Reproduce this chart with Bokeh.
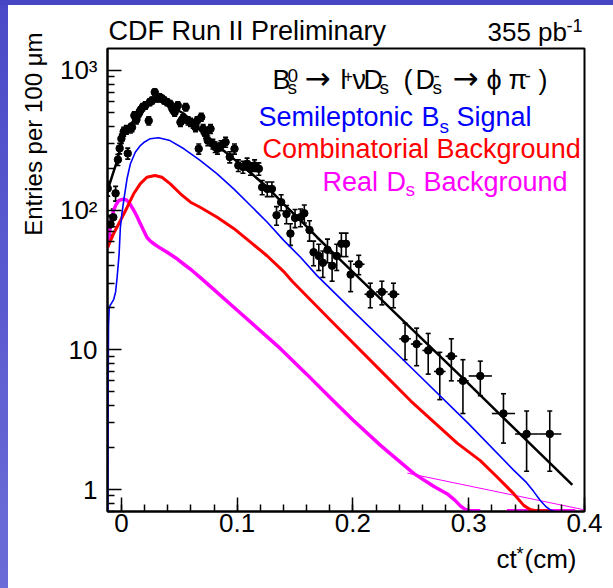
import math
from bokeh.plotting import figure
from bokeh.models import Label, FixedTicker, Whisker, ColumnDataSource, TeeHead, Div
from bokeh.layouts import column, row
from bokeh.embed import file_html
from bokeh.resources import INLINE

# ---------------- data ----------------
ct = [-0.0118, -0.0095, -0.007, -0.005, -0.003, -0.0015, 0.000, 0.002, 0.0043, 0.0055,
      0.0078, 0.0092, 0.0112, 0.013, 0.015, 0.0164, 0.0184, 0.0207, 0.0236, 0.0245,
      0.0265, 0.0288, 0.031, 0.033, 0.035, 0.037, 0.0395, 0.042, 0.044, 0.046,
      0.0487, 0.051, 0.053, 0.0556, 0.0576, 0.0597, 0.062, 0.064, 0.0654, 0.0668,
      0.069, 0.0706, 0.0726, 0.0746, 0.077, 0.079, 0.081, 0.083, 0.086, 0.090,
      0.0936, 0.0977, 0.101, 0.105, 0.1086, 0.1115, 0.115, 0.1187, 0.1216, 0.126,
      0.130, 0.134, 0.138, 0.1426, 0.146, 0.150, 0.1547, 0.158, 0.1625, 0.166,
      0.1705, 0.174, 0.178, 0.182, 0.186, 0.190, 0.194, 0.198, 0.205, 0.215,
      0.225, 0.235, 0.245, 0.255, 0.265, 0.275, 0.285, 0.295, 0.31, 0.33,
      0.35, 0.37]
entries = [143, 79, 89, 132, 230, 277, 325, 365, 377, 255,
           385, 392, 476, 444, 492, 518, 546, 562, 437, 593,
           610, 700, 630, 645, 630, 610, 593, 576, 532, 502,
           562, 426, 451, 546, 437, 426, 415, 392, 437, 275,
           463, 382, 352, 315, 382, 298, 283, 275, 290, 307,
           240, 275, 209, 204, 215, 198, 209, 198, 146, 142,
           142, 92, 114, 94, 68, 88, 89, 95, 72, 50,
           47, 42, 52, 40, 47, 57.5, 57.5, 34.6, 41, 25,
           26, 25, 12, 11, 9.9, 7.0, 9.0, 6.0, 6.5, 3.5,
           2.5, 2.5]
entries_err = [17, 13, 13, 16, 21, 24, 25, 27, 27, 23,
               28, 28, 31, 30, 31, 32, 33, 34, 30, 34,
               35, 37, 35, 36, 35, 35, 34, 34, 33, 32,
               34, 29, 30, 33, 30, 29, 29, 28, 30, 23,
               30, 28, 27, 25, 28, 24, 24, 23, 24, 25,
               22, 23, 20, 20, 21, 20, 20, 20, 17, 17,
               17, 14, 15, 14, 12, 13, 13, 14, 12, 10,
               10, 9, 10, 9, 10, 11, 11, 8.5, 6.5, 5,
               5, 5, 3.5, 3.3, 3.2, 2.6, 3.0, 2.5, 1.8, 1.35,
               1.15, 1.15]
ct_halfbin = [0.002] * 78 + [0.005] * 10 + [0.01] * 4

fit_x = [-0.012, -0.008, -0.004, 0.0, 0.004, 0.008, 0.012, 0.016, 0.02, 0.025, 0.03,
         0.035, 0.04, 0.047, 0.054, 0.06, 0.068, 0.075, 0.083, 0.09, 0.097, 0.111,
         0.126, 0.14, 0.155, 0.169, 0.2, 0.25, 0.3, 0.35, 0.3895]
fit_y = [138, 175, 222, 298, 365, 412, 452, 497, 540, 580, 610,
         600, 572, 530, 490, 440, 372, 330, 290, 260, 233, 187,
         146, 111, 84, 64, 36, 14.3, 5.7, 2.25, 1.08]

sig_x = [-0.0117, -0.0114, -0.0111, -0.0105, -0.0095, -0.0086, -0.0066, -0.005, -0.0037,
         -0.002, -0.0009, 0.0005, 0.002, 0.005, 0.0078, 0.012, 0.0164, 0.02, 0.025, 0.032,
         0.042, 0.054, 0.068, 0.0827, 0.097, 0.1115, 0.126, 0.14, 0.1547, 0.169, 0.2,
         0.25, 0.3, 0.339, 0.35, 0.356, 0.362, 0.367, 0.371, 0.375]
sig_y = [0.6, 6, 15, 20, 21, 21.5, 23, 26, 33,
         48, 75, 95, 117, 170, 215, 260, 290, 308, 325, 330,
         315, 275, 227, 182, 142, 108, 82, 61, 46, 34, 19,
         7.5, 2.95, 1.37, 1.12, 0.97, 0.83, 0.75, 0.71, 0.69]

comb_x = [-0.012, -0.0067, -0.0009, 0.005, 0.0106, 0.0164, 0.022, 0.029, 0.035, 0.042,
          0.051, 0.0597, 0.068, 0.0827, 0.097, 0.1115, 0.126, 0.14, 0.1475, 0.18,
          0.2239, 0.25, 0.29, 0.31, 0.3245, 0.339, 0.3475, 0.353, 0.358, 0.37]
comb_y = [54, 68, 84, 105, 131, 155, 172, 177, 172, 155,
          131, 114, 105, 89, 74, 59, 47, 36.5, 31, 16.5,
          7.1, 4.3, 2.15, 1.61, 1.23, 0.93, 0.77, 0.72, 0.705, 0.705]

real_x = [-0.012, -0.0095, -0.0067, -0.0045, -0.0023, 0.0, 0.002, 0.0045, 0.0063, 0.0085,
          0.0106, 0.0135, 0.0164, 0.019, 0.022, 0.025, 0.028, 0.0335, 0.0395, 0.047,
          0.054, 0.061, 0.068, 0.1, 0.1374, 0.16, 0.1826, 0.2, 0.2238, 0.2527,
          0.27, 0.2815, 0.288, 0.293, 0.297, 0.3, 0.31, float("nan"), 0.333, 0.392]
real_y = [54, 78, 100, 110, 117, 119, 120, 118, 114, 107,
          100, 90, 80, 72, 64, 60, 57.5, 53.5, 50, 45.5,
          41, 37, 33, 19.2, 10.2, 6.7, 4.35, 3.15, 2.07, 1.30,
          1.05, 0.93, 0.84, 0.76, 0.72, 0.705, 0.705, float("nan"), 0.705, 0.705]

thin_x = [0.247, 0.4]
thin_y = [1.31, 0.715]

x_ticks = [0, 0.1, 0.2, 0.3, 0.4]
x_tick_labels = ["0", "0.1", "0.2", "0.3", "0.4"]
y_ticks = [1, 10, 100, 1000]
y_tick_labels = ["1", "10", "10\u00b2", "10\u00b3"]

# ---------------- geometry (page pixels) ----------------
XMIN, XMAX = -0.012, 0.4
YMIN, YMAX = 0.696, 1437
FL, FT, FW, FH = 107, 48, 477, 463        # main frame
STRIP_L, STRIP_T = 8, 5
LEFT_W = 42                               # figure with the y title
COL_X = STRIP_L + LEFT_W                  # 50
COL_W = 613 - COL_X                       # 563
TITLE_H = 42                              # page y 5..47
MAIN_TOP = STRIP_T + TITLE_H              # 47
MAIN_H = 498                              # page y 47..545
BOT_Y = MAIN_TOP + MAIN_H                 # 545
BOT_H = 588 - BOT_Y                       # 43
LTOP, LBOT = math.log10(YMAX), math.log10(YMIN)
FONT = "Liberation Sans"
ARROW_FONT = "DejaVu Sans"
BASE_FIX = 0.38          # the renderer draws the baseline this many em lower


def px2x(px):
    return XMIN + (px - FL) * (XMAX - XMIN) / FW


def px2y(py):
    return 10 ** (LTOP - (py - FT) * (LTOP - LBOT) / FH)


def make_label(fig, text, x, y, size, color="black", align="left", angle=0.0, font=FONT):
    fig.add_layout(Label(x=x, y=y, text=text, text_font=font,
                         text_font_size=f"{size}px", text_color=color,
                         text_align=align, text_baseline="alphabetic",
                         angle=angle, angle_units="rad"))


def aux_fig(x0, y0, w, h):
    f = figure(width=w, height=h, x_range=(x0, x0 + w), y_range=(y0 + h, y0),
               output_backend="svg", toolbar_location=None,
               x_axis_location=None, y_axis_location=None, min_border=0)
    f.frame_align = False
    f.margin = (0, 0, 0, 0)
    f.outline_line_color = None
    f.background_fill_color = "white"
    f.border_fill_color = "white"
    f.grid.visible = False
    return f


def aux_text(fig, text, px, py, size, color="black"):
    make_label(fig, text, px, py - BASE_FIX * size, size, color)


# ---------------- main plot ----------------
p = figure(frame_width=FW, frame_height=FH,
           x_range=(XMIN, XMAX), y_range=(YMIN, YMAX), y_axis_type="log",
           output_backend="svg", toolbar_location=None,
           min_border_left=FL - COL_X, min_border_right=613 - (FL + FW),
           min_border_top=FT - MAIN_TOP, min_border_bottom=BOT_Y - (FT + FH))
p.frame_align = False
p.margin = (0, 0, 0, 0)
p.background_fill_color = "white"
p.border_fill_color = "white"
p.outline_line_color = "black"
p.outline_line_width = 2
p.grid.visible = False

for ax in (p.xaxis[0], p.yaxis[0]):
    ax.axis_line_width = 2
    ax.axis_line_color = "black"
    ax.major_tick_out = 0
    ax.major_tick_in = 14
    ax.minor_tick_out = 0
    ax.minor_tick_in = 7
    ax.major_tick_line_color = "black"
    ax.minor_tick_line_color = "black"
    ax.major_tick_line_width = 1.5
    ax.minor_tick_line_width = 1.5
    ax.major_label_text_font = FONT
    ax.major_label_text_font_size = "26px"
    ax.major_label_text_color = "black"

p.xaxis.ticker = FixedTicker(ticks=x_ticks,
                             minor_ticks=[round(0.02 * i, 2) for i in range(21)])
p.xaxis.major_label_overrides = dict(zip(x_ticks, x_tick_labels))
p.xaxis.major_label_standoff = 2

minor_y = [0.7, 0.8, 0.9] + [m * d for d in (1, 10, 100) for m in range(2, 10)]
p.yaxis.ticker = FixedTicker(ticks=y_ticks, minor_ticks=minor_y)
p.yaxis.major_label_overrides = dict(zip(y_ticks, y_tick_labels))
p.yaxis.major_label_standoff = 10

# curves
p.line(thin_x, thin_y, line_color="#ff00ff", line_width=1)
p.line(real_x, real_y, line_color="#ff00ff", line_width=3.5)
p.line(comb_x, comb_y, line_color="#ff0000", line_width=3)
p.line(sig_x, sig_y, line_color="#0000ff", line_width=1.6)
p.line(fit_x, fit_y, line_color="black", line_width=2.5)

# data points
src = ColumnDataSource(dict(
    x=ct, y=entries,
    lo=[v - e for v, e in zip(entries, entries_err)],
    hi=[v + e for v, e in zip(entries, entries_err)],
    xlo=[c - h for c, h in zip(ct, ct_halfbin)],
    xhi=[c + h for c, h in zip(ct, ct_halfbin)],
))
p.add_layout(Whisker(source=src, base="x", lower="lo", upper="hi", dimension="height",
                     line_color="black", line_width=1.6,
                     upper_head=TeeHead(size=5, line_color="black", line_width=1.6),
                     lower_head=TeeHead(size=5, line_color="black", line_width=1.6)))
p.add_layout(Whisker(source=src, base="y", lower="xlo", upper="xhi", dimension="width",
                     line_color="black", line_width=1.6,
                     upper_head=None, lower_head=None))
p.scatter("x", "y", source=src, size=7.5, color="black")


def put(text, px, py, size, color="black", font=FONT):
    make_label(p, text, px2x(px), px2y(py - BASE_FIX * size), size, color, font=font)


BIG, SMALL = 27, 19
SUB, SUP = 5, -8

# decay formula
b1 = 90
put("B", 272, b1, BIG)
put("s", 287, b1 + SUB - 1, SMALL)
put("0", 287, b1 + SUP, SMALL)
put("\u2192", 304, b1 - 1, 31, font=ARROW_FONT)
put("l", 340, b1, BIG)
put("+", 343, b1 + SUP, 16)
put("\u03bd", 352, b1, BIG)
put("D", 363, b1, BIG)
put("s", 379, b1 + SUB - 1, SMALL)
put("-", 380, b1 + SUP, SMALL)
put("(", 403, b1, BIG)
put("D", 415, b1, BIG)
put("s", 432, b1 + SUB - 1, SMALL)
put("-", 433, b1 + SUP, SMALL)
put("\u2192", 452, b1 - 1, 31, font=ARROW_FONT)
put("\u03d5", 486, b1, BIG)
put("\u03c0", 508, b1, BIG)
put("-", 524, b1 + SUP, SMALL)
put(")", 538, b1, BIG)

# legend lines
put("Semileptonic", 258, 127, BIG, "#0000ff")
put("B", 421, 127, BIG, "#0000ff")
put("s", 439, 127 + SUB + 1, SMALL, "#0000ff")
put("Signal", 456, 127, BIG, "#0000ff")
put("Combinatorial Background", 262, 159, BIG, "#ff0000")
put("Real", 322, 191.5, BIG, "#ff00ff")
put("D", 386, 191.5, BIG, "#ff00ff")
put("s", 405, 191.5 + SUB, SMALL, "#ff00ff")
put("Background", 423, 191.5, BIG, "#ff00ff")

# ---------------- surrounding text figures ----------------
left_fig = aux_fig(STRIP_L, STRIP_T, LEFT_W, 588 - STRIP_T)
make_label(left_fig, "Entries per 100 \u03bcm", 42 - BASE_FIX * 24, 32, 24,
           align="right", angle=math.pi / 2)

title_fig = aux_fig(COL_X, STRIP_T, COL_W, TITLE_H)
aux_text(title_fig, "CDF Run II Preliminary", 108, 41, BIG)
aux_text(title_fig, "355 pb", 487, 41, 26)
aux_text(title_fig, "-1", 566, 32, 18)

bottom_fig = aux_fig(COL_X, BOT_Y, COL_W, BOT_H)
aux_text(bottom_fig, "ct", 496, 568, 26)
aux_text(bottom_fig, "*", 516, 560, 18)
aux_text(bottom_fig, " (cm)", 524, 568, 26)

# ---------------- page with the slide strips ----------------
top_strip = Div(text="", width=613, height=STRIP_T, margin=(0, 0, 0, 0),
                styles={"background-color": "#4646c4"})
left_strip = Div(text="", width=STRIP_L, height=588 - STRIP_T, margin=(0, 0, 0, 0),
                 styles={"background": "linear-gradient(#4a4ac8, #6c6cd8)"})
right_col = column(title_fig, p, bottom_fig, spacing=0, margin=(0, 0, 0, 0))
layout = column(top_strip,
                row(left_strip, left_fig, right_col, spacing=0, margin=(0, 0, 0, 0)),
                spacing=0, margin=(0, 0, 0, 0))

open("out.html", "w").write(file_html(layout, INLINE))
